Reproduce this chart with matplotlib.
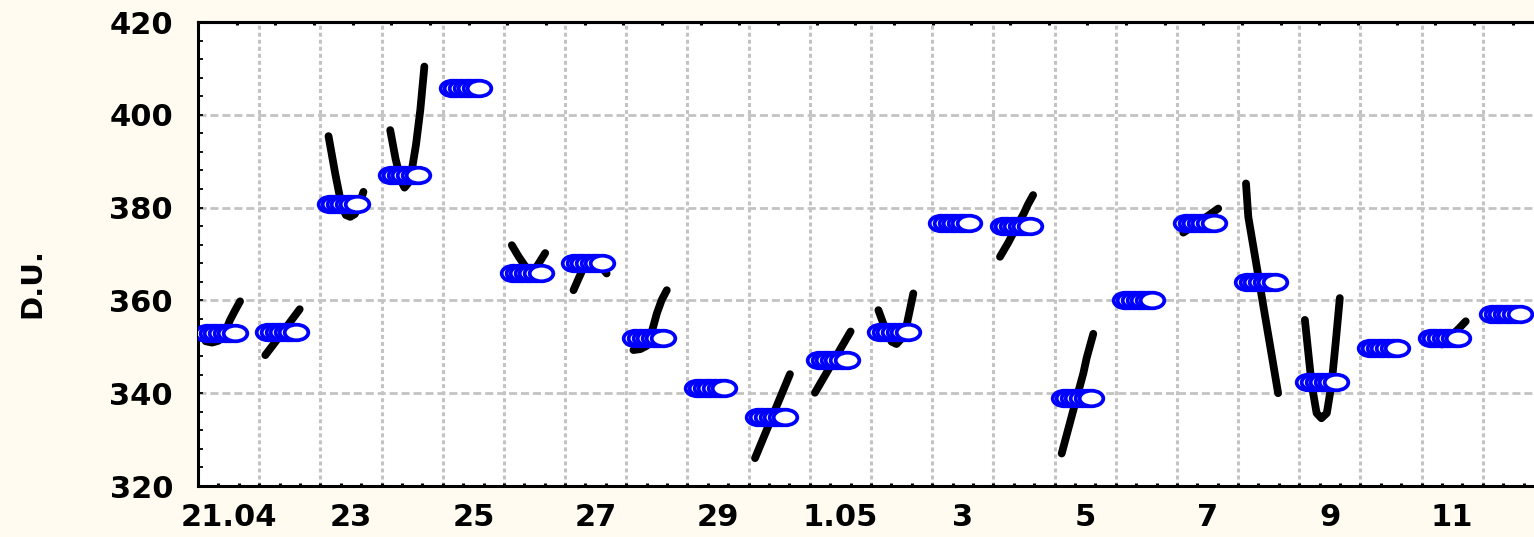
import numpy as np
import matplotlib
matplotlib.use("Agg")
import matplotlib.pyplot as plt
from matplotlib.path import Path

# days counted from 21.04 (0) to 12.05 (21)
day_labels = ['21.04', '23', '25', '27', '29', '1.05', '3', '5', '7', '9', '11']
label_days = [0, 2, 4, 6, 8, 10, 12, 14, 16, 18, 20]

# daily total ozone (D.U.), drawn as a row of markers through the day
daily_ozone = [353.0, 353.2, 380.8, 387.0, 405.8, 365.9, 368.1, 351.9, 341.1, 334.9, 347.2,
               353.2, 376.7, 376.0, 339.0, 360.1, 376.7, 364.0, 342.4, 349.7, 351.8, 357.1]
obs_hours = [3.6, 5.4, 7.2, 9.0, 10.8, 12.6, 14.4]

# diurnal curves (hour of day, D.U.)
curve_days = [0, 1, 2, 3, 5, 6, 7, 9, 10, 11, 13, 14, 16, 17, 18, 20]
curve_hours = [
    [3.0, 5.5, 8.0, 10.5, 12.6, 14.5, 16.5],
    [2.4, 6.0, 9.0, 12.5, 15.9],
    [3.2, 5.8, 8.4, 10.0, 11.7, 13.5, 15.0, 16.9],
    [3.4, 5.5, 7.5, 9.0, 10.5, 12.0, 13.5, 15.2, 16.8],
    [3.1, 5.7, 8.3, 10.5, 13.0, 14.6, 16.2],
    [3.3, 5.2, 7.2, 9.5, 12.0, 14.5, 16.3],
    [2.8, 5.5, 8.0, 10.0, 12.0, 13.9, 15.9],
    [2.5, 9.3, 16.2],
    [2.0, 9.0, 16.0],
    [2.9, 5.5, 8.1, 10.0, 12.0, 14.0, 16.6],
    [2.6, 6.0, 9.0, 12.0, 13.5, 15.6],
    [2.8, 7.0, 11.3, 12.6, 15.2],
    [2.5, 9.0, 16.2],
    [3.1, 4.0, 7.0, 10.0, 13.0, 15.7],
    [2.2, 4.8, 6.8, 8.7, 10.8, 12.7, 14.3, 15.9],
    [8.0, 14.0, 17.3],
]
curve_values = [
    [351.2, 350.9, 351.3, 353.0, 355.8, 357.8, 359.8],
    [348.2, 350.8, 353.0, 355.6, 358.1],
    [395.4, 387.4, 380.2, 378.4, 378.0, 378.6, 380.2, 383.4],
    [396.7, 390.5, 386.0, 384.3, 385.3, 388.5, 393.5, 401.0, 410.4],
    [371.9, 369.5, 367.4, 366.0, 367.4, 368.8, 370.2],
    [362.2, 364.6, 367.0, 368.3, 368.3, 367.0, 365.8],
    [349.3, 349.5, 350.2, 353.2, 357.2, 360.1, 362.2],
    [326.0, 335.0, 344.1],
    [340.1, 346.7, 353.3],
    [357.9, 354.0, 351.1, 350.6, 351.8, 354.7, 361.5],
    [369.4, 372.6, 375.8, 378.8, 380.6, 382.7],
    [327.0, 335.6, 344.3, 347.6, 352.8],
    [374.6, 377.0, 379.8],
    [385.2, 378.0, 368.3, 358.5, 348.8, 340.0],
    [355.8, 342.1, 335.7, 334.6, 335.7, 342.1, 351.0, 360.5],
    [350.5, 353.6, 355.5],
]

plt.rcParams['font.family'] = 'DejaVu Sans'
plt.rcParams['font.weight'] = 'bold'

fig = plt.figure(figsize=(15.34, 5.37), dpi=100, facecolor='#fffbf0')
ax = fig.add_axes([198 / 1534, 51 / 537, 1346 / 1534, 464 / 537])
ax.set_facecolor('white')

# flat ellipse marker like the original
circ = Path.unit_circle()
ellipse = Path(circ.vertices * np.array([1.0, 0.66]), circ.codes)

for d, hrs, vals in zip(curve_days, curve_hours, curve_values):
    xs = [d + h / 24.0 for h in hrs]
    ax.plot(xs, vals, color='black', lw=5.6, solid_capstyle='round',
            solid_joinstyle='round', zorder=3)

for d, v in enumerate(daily_ozone):
    xs = [d + h / 24.0 for h in obs_hours]
    ax.plot(xs, [v] * len(xs), ls='none', marker=ellipse, ms=17,
            mfc='white', mec='#0000ff', mew=2.7, zorder=4)

ax.set_xlim(0, 22)
ax.set_ylim(320, 420)

# grid: dotted at day boundaries, dashed every 20 D.U.
for d in range(1, 22):
    ax.axvline(d, color='#c3c3c3', lw=2.2, ls=(0, (1.3, 1.0)), zorder=1)
for y in range(340, 420, 20):
    ax.axhline(y, color='#c3c3c3', lw=2.0, ls=(0, (2.9, 1.4)), zorder=1)

ax.set_xticks([d + 0.5 for d in label_days])
ax.set_xticklabels(day_labels)
ax.set_xticks(np.arange(0, 22.01, 1 / 3), minor=True)
ax.tick_params(axis='x', which='major', length=0, pad=12, labelsize=22)
ax.tick_params(axis='x', which='minor', direction='in', length=2.5, width=2.2)

ax.set_yticks(range(320, 421, 20))
ax.set_yticks(range(320, 421, 4), minor=True)
ax.tick_params(axis='y', which='both', direction='in', length=3.6, width=1.3)
ax.tick_params(axis='y', which='major', pad=18, labelsize=22)

sec = ax.secondary_xaxis('top')
sec.set_xticks(np.arange(0.632, 22, 0.632), labels=[])
sec.tick_params(direction='in', length=2.5, width=2.2)
sec.spines['top'].set_linewidth(2.2)

for s in ax.spines.values():
    s.set_linewidth(2.2)
    s.set_color('black')

ax.set_ylabel('D.U.', fontsize=21, fontweight='bold')
ax.yaxis.set_label_coords(-0.113, 0.4375)

fig.savefig('out.png', dpi=100, facecolor=fig.get_facecolor())
